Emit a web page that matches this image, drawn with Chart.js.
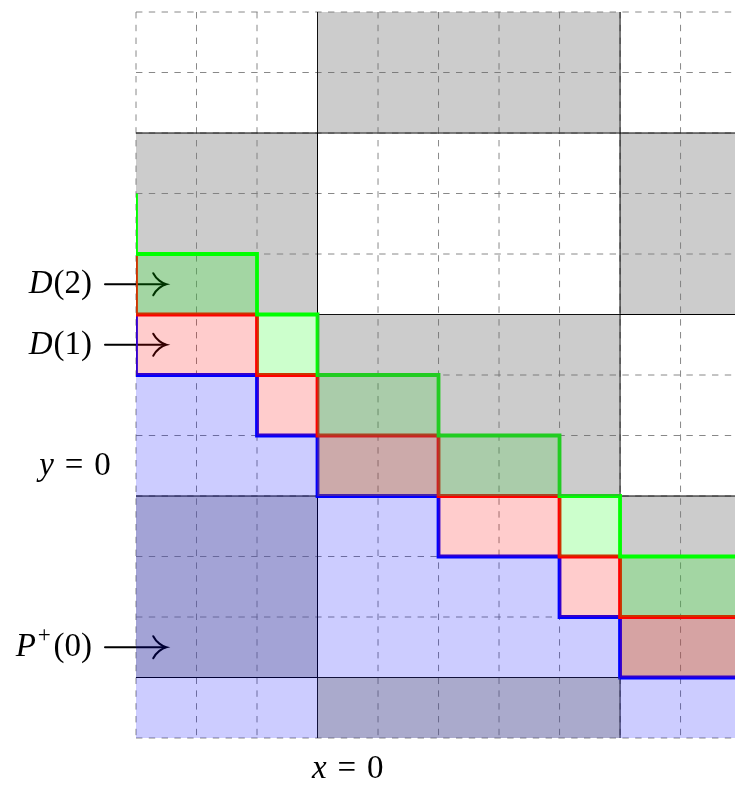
<!DOCTYPE html>
<html><head><meta charset="utf-8">
<script src="https://cdn.jsdelivr.net/npm/chart.js@4.4.1/dist/chart.umd.min.js"></script>
<style>html,body{margin:0;padding:0;background:#fff;}canvas{display:block;}</style>
</head><body>
<canvas id="c" width="735" height="787"></canvas>
<script>
// Staircase corner points (cell units); stepped 'before' (horizontal first, then vertical)
const stepX  = [0, 0, 2, 3, 5, 7, 8, 10];
const blueY  = [7, 6, 5, 4, 3, 2, 1, 1];   // P+(0) boundary
const redY   = [8, 7, 6, 5, 4, 3, 2, 2];   // D(1) boundary
const greenY = [9, 8, 7, 6, 5, 4, 3, 3];   // D(2) boundary
// Checkerboard block edges (cell units)
const blockX = [0, 3, 8, 10];
const blockY = [0, 1, 4, 7, 10, 12];
// Row labels with arrows
const arrowLabels = ['D(2)', 'D(1)', 'P+(0)'];
const arrowRows   = [7.5, 6.5, 1.5];
// Axis labels
const yZeroRow = 4.5;
const xZeroCol = 3.5;

const FONT = '"Liberation Serif", "Times New Roman", serif';

function drawRuns(ctx, runs, x, base, align, size) {
  let w = 0;
  const items = runs.map(r => {
    const fs = size * (r.scale || 1);
    const font = (r.it ? 'italic ' : '') + fs + 'px ' + FONT;
    ctx.font = font;
    const mw = ctx.measureText(r.t).width;
    const it = {t: r.t, font, x: w + (r.pre || 0) * size, dy: (r.dy || 0) * size};
    w += (r.pre || 0) * size + mw + (r.post || 0) * size;
    return it;
  });
  const x0 = align === 'right' ? x - w : align === 'center' ? x - w / 2 : x;
  items.forEach(it => { ctx.font = it.font; ctx.fillText(it.t, x0 + it.x, base + it.dy); });
}

function labelRuns(s) {
  if (s.startsWith('P+')) {
    return [{t: 'P', it: true}, {t: '+', scale: 0.7, dy: -0.42, pre: 0.06}, {t: s.slice(2), pre: 0.08}];
  }
  return [{t: s[0], it: true}, {t: s.slice(1), pre: 0.03}];
}

const diagramPlugin = {
  id: 'diagram',
  beforeDraw(chart) {
    const ctx = chart.ctx;
    ctx.save();
    ctx.fillStyle = '#fff';
    ctx.fillRect(0, 0, chart.width, chart.height);
    ctx.restore();
  },
  beforeDatasetsDraw(chart) {
    const {ctx, chartArea: a, scales: {x, y}} = chart;
    ctx.save();
    ctx.beginPath();
    ctx.rect(a.left - 2, a.top - 2, a.right - a.left + 4, a.bottom - a.top + 4);
    ctx.clip();
    // gray blocks, outer columns (under the fills)
    ctx.fillStyle = '#cccccc';
    for (let c = 0; c < blockX.length - 1; c++) {
      for (let r = 0; r < blockY.length - 1; r++) {
        if ((c + r) % 2 === 1 && c !== 1) {
          const x0 = x.getPixelForValue(blockX[c]), x1 = x.getPixelForValue(blockX[c + 1]);
          const y0 = y.getPixelForValue(blockY[r + 1]), y1 = y.getPixelForValue(blockY[r]);
          ctx.fillRect(x0, y0, x1 - x0, y1 - y0);
        }
      }
    }
    // dashed grid
    ctx.strokeStyle = '#7a7a7a';
    ctx.lineWidth = 0.9;
    ctx.setLineDash([6.4, 6.4]);
    const yTop = y.getPixelForValue(12), yBot = y.getPixelForValue(0);
    const xL = x.getPixelForValue(0), xR = x.getPixelForValue(10);
    for (let k = 0; k <= 10; k++) {
      const px = x.getPixelForValue(k);
      ctx.beginPath(); ctx.moveTo(px, yTop); ctx.lineTo(px, yBot); ctx.stroke();
    }
    for (let k = 0; k <= 12; k++) {
      const py = y.getPixelForValue(k);
      ctx.beginPath(); ctx.moveTo(xL, py); ctx.lineTo(xR, py); ctx.stroke();
    }
    // solid block boundaries
    ctx.setLineDash([]);
    ctx.strokeStyle = '#000';
    ctx.lineWidth = 1;
    blockX.slice(1, -1).forEach(v => {
      const px = x.getPixelForValue(v);
      ctx.beginPath(); ctx.moveTo(px, yTop); ctx.lineTo(px, yBot); ctx.stroke();
    });
    blockY.slice(1, -1).forEach(v => {
      const py = y.getPixelForValue(v);
      ctx.beginPath(); ctx.moveTo(xL, py); ctx.lineTo(xR, py); ctx.stroke();
    });
    ctx.restore();
    // arrows (drawn before fills so the fills tint them)
    ctx.save();
    ctx.strokeStyle = '#000';
    ctx.lineWidth = 2;
    ctx.lineCap = 'round';
    arrowRows.forEach(rv => {
      const py = y.getPixelForValue(rv);
      const tip = x.getPixelForValue(0.5);
      ctx.beginPath(); ctx.moveTo(a.left - 31, py); ctx.lineTo(tip - 1, py); ctx.stroke();
      ctx.beginPath();
      ctx.moveTo(tip - 13, py - 11);
      ctx.bezierCurveTo(tip - 10, py - 5, tip - 4, py - 1, tip, py);
      ctx.bezierCurveTo(tip - 4, py + 1, tip - 10, py + 5, tip - 13, py + 11);
      ctx.stroke();
    });
    ctx.restore();
  },
  afterDatasetsDraw(chart) {
    const {ctx, chartArea: a, scales: {x, y}} = chart;
    ctx.save();
    ctx.beginPath();
    ctx.rect(a.left, a.top, a.right - a.left, a.bottom - a.top);
    ctx.clip();
    ctx.fillStyle = 'rgba(102,102,102,0.3333)';
    const c = 1;
    for (let r = 0; r < blockY.length - 1; r++) {
      if ((c + r) % 2 === 1) {
        const x0 = x.getPixelForValue(blockX[c]), x1 = x.getPixelForValue(blockX[c + 1]);
        const y0 = y.getPixelForValue(blockY[r + 1]), y1 = y.getPixelForValue(blockY[r]);
        ctx.fillRect(x0, y0, x1 - x0, y1 - y0);
      }
    }
    ctx.restore();
  },
  afterDraw(chart) {
    const {ctx, chartArea: a, scales: {x, y}} = chart;
    ctx.save();
    ctx.fillStyle = '#000';
    ctx.textBaseline = 'alphabetic';
    const size = 33;
    arrowLabels.forEach((s, i) => {
      const py = y.getPixelForValue(arrowRows[i]);
      drawRuns(ctx, labelRuns(s), a.left - 44, py + 9, 'right', size);
    });
    drawRuns(ctx, [{t: 'y', it: true}, {t: '=', pre: 0.33, post: 0.33}, {t: '0'}],
      a.left - 61, y.getPixelForValue(yZeroRow) + 9, 'center', size);
    drawRuns(ctx, [{t: 'x', it: true}, {t: '=', pre: 0.33, post: 0.33}, {t: '0'}],
      x.getPixelForValue(xZeroCol), a.bottom + 40, 'center', size);
    ctx.restore();
  }
};

function pts(ys) { return stepX.map((xv, i) => ({x: xv, y: ys[i]})); }

new Chart(document.getElementById('c'), {
  type: 'line',
  data: {
    datasets: [
      {label: 'D(2)', data: pts(greenY), borderColor: '#00ff00', backgroundColor: 'rgba(0,255,0,0.2)', fill: 1},
      {label: 'D(1)', data: pts(redY), borderColor: '#ff0000', backgroundColor: 'rgba(255,0,0,0.2)', fill: 2},
      {label: 'P+(0)', data: pts(blueY), borderColor: '#0000ff', backgroundColor: 'rgba(0,0,255,0.2)', fill: 'origin'}
    ]
  },
  options: {
    responsive: false,
    animation: false,
    devicePixelRatio: 1,
    layout: {padding: {left: 136, top: 12, right: 0, bottom: 49}},
    elements: {
      line: {borderWidth: 3.8, stepped: 'before', tension: 0, borderJoinStyle: 'miter', borderCapStyle: 'butt'},
      point: {radius: 0, hoverRadius: 0}
    },
    scales: {
      x: {type: 'linear', min: 0, max: 9.9, display: false},
      y: {type: 'linear', min: 0, max: 12, display: false}
    },
    plugins: {legend: {display: false}, tooltip: {enabled: false}, filler: {propagate: false}}
  },
  plugins: [diagramPlugin]
});
</script>
</body></html>
